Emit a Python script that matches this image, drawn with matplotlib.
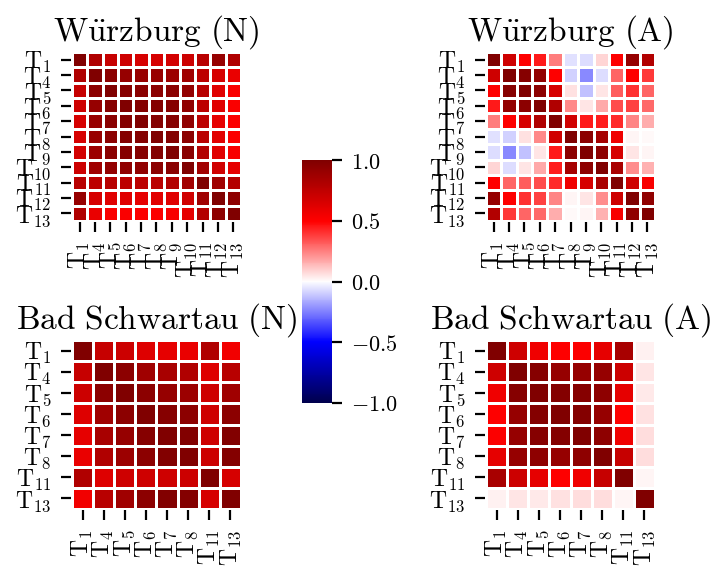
import numpy as np
import matplotlib
matplotlib.use("Agg")
import matplotlib.pyplot as plt
import seaborn as sns

sns.set_style("ticks")
plt.rcParams["mathtext.fontset"] = "cm"
plt.rcParams["font.family"] = ["DejaVu Serif"]
plt.rcParams["text.color"] = "black"
plt.rcParams["xtick.color"] = "black"
plt.rcParams["ytick.color"] = "black"

# etiquetas de los puntos
etiq_w = ["1", "4", "5", "6", "7", "8", "9", "10", "11", "12", "13"]
etiq_bs = ["1", "4", "5", "6", "7", "8", "11", "13"]

# correlaciones Würzburg (N)
wurz_n = [
    [1.00, 0.81, 0.72, 0.69, 0.66, 0.66, 0.67, 0.70, 0.78, 0.91, 0.81],
    [0.81, 1.00, 0.95, 0.91, 0.90, 0.90, 0.89, 0.87, 0.76, 0.66, 0.58],
    [0.72, 0.95, 1.00, 0.97, 0.96, 0.95, 0.96, 0.92, 0.78, 0.62, 0.52],
    [0.69, 0.91, 0.97, 1.00, 0.98, 0.98, 0.97, 0.93, 0.76, 0.62, 0.52],
    [0.66, 0.90, 0.96, 0.98, 1.00, 0.98, 0.97, 0.93, 0.76, 0.60, 0.51],
    [0.66, 0.90, 0.95, 0.98, 0.98, 1.00, 0.98, 0.95, 0.77, 0.61, 0.51],
    [0.67, 0.89, 0.96, 0.97, 0.97, 0.98, 1.00, 0.96, 0.80, 0.62, 0.53],
    [0.70, 0.87, 0.92, 0.93, 0.93, 0.95, 0.96, 1.00, 0.86, 0.68, 0.60],
    [0.78, 0.76, 0.78, 0.76, 0.76, 0.77, 0.80, 0.86, 1.00, 0.87, 0.79],
    [0.91, 0.66, 0.62, 0.62, 0.60, 0.61, 0.62, 0.68, 0.87, 1.00, 0.94],
    [0.81, 0.58, 0.52, 0.52, 0.51, 0.51, 0.53, 0.60, 0.79, 0.94, 1.00],
]

# correlaciones Würzburg (A)
wurz_a = [
    [1.00, 0.69, 0.50, 0.45, 0.25, -0.06, -0.07, 0.08, 0.50, 0.91, 0.80],
    [0.69, 1.00, 0.97, 0.92, 0.50, -0.09, -0.23, -0.07, 0.30, 0.50, 0.39],
    [0.50, 0.97, 1.00, 0.95, 0.66, 0.06, -0.12, 0.05, 0.32, 0.40, 0.30],
    [0.45, 0.92, 0.95, 1.00, 0.81, 0.23, 0.05, 0.17, 0.35, 0.37, 0.29],
    [0.25, 0.50, 0.66, 0.81, 1.00, 0.68, 0.45, 0.44, 0.42, 0.24, 0.16],
    [-0.06, -0.09, 0.06, 0.23, 0.68, 1.00, 0.95, 0.85, 0.56, 0.02, 0.01],
    [-0.07, -0.23, -0.12, 0.05, 0.45, 0.95, 1.00, 0.94, 0.66, 0.05, 0.02],
    [0.08, -0.07, 0.05, 0.17, 0.44, 0.85, 0.94, 1.00, 0.83, 0.22, 0.15],
    [0.50, 0.30, 0.32, 0.35, 0.42, 0.56, 0.66, 0.83, 1.00, 0.69, 0.53],
    [0.91, 0.50, 0.40, 0.37, 0.24, 0.02, 0.05, 0.22, 0.69, 1.00, 0.93],
    [0.80, 0.39, 0.30, 0.29, 0.16, 0.01, 0.02, 0.15, 0.53, 0.93, 1.00],
]

# correlaciones Bad Schwartau (N)
bs_n = [
    [1.00, 0.72, 0.70, 0.63, 0.60, 0.58, 0.81, 0.55],
    [0.72, 1.00, 0.95, 0.87, 0.84, 0.81, 0.63, 0.78],
    [0.70, 0.95, 1.00, 0.95, 0.91, 0.89, 0.69, 0.87],
    [0.63, 0.87, 0.95, 1.00, 0.97, 0.95, 0.69, 0.95],
    [0.60, 0.84, 0.91, 0.97, 1.00, 0.99, 0.69, 0.99],
    [0.58, 0.81, 0.89, 0.95, 0.99, 1.00, 0.70, 0.98],
    [0.81, 0.63, 0.69, 0.69, 0.69, 0.70, 1.00, 0.66],
    [0.55, 0.78, 0.87, 0.95, 0.99, 0.98, 0.66, 1.00],
]

# correlaciones Bad Schwartau (A)
bs_a = [
    [1.00, 0.69, 0.56, 0.50, 0.51, 0.60, 0.84, 0.03],
    [0.69, 1.00, 0.97, 0.91, 0.91, 0.91, 0.70, 0.05],
    [0.56, 0.97, 1.00, 0.98, 0.97, 0.94, 0.60, 0.04],
    [0.50, 0.91, 0.98, 1.00, 0.98, 0.91, 0.50, 0.06],
    [0.51, 0.91, 0.97, 0.98, 1.00, 0.94, 0.56, 0.07],
    [0.60, 0.91, 0.94, 0.91, 0.94, 1.00, 0.72, 0.07],
    [0.84, 0.70, 0.60, 0.50, 0.56, 0.72, 1.00, 0.02],
    [0.03, 0.05, 0.04, 0.06, 0.07, 0.07, 0.02, 1.00],
]

paneles = [
    (wurz_n, etiq_w, r"$\mathrm{W\ddot{u}rzburg\ (N)}$", [0.1011, 0.6095, 0.2374, 0.2986]),
    (wurz_a, etiq_w, r"$\mathrm{W\ddot{u}rzburg\ (A)}$", [0.6826, 0.6095, 0.2374, 0.2986]),
    (bs_n, etiq_bs, r"$\mathrm{Bad\ Schwartau\ (N)}$", [0.1011, 0.1007, 0.2374, 0.2986]),
    (bs_a, etiq_bs, r"$\mathrm{Bad\ Schwartau\ (A)}$", [0.6826, 0.1007, 0.2374, 0.2986]),
]

fig = plt.figure(figsize=(7.12, 5.66), dpi=100)

for datos, etiq, titulo, pos in paneles:
    ax = fig.add_axes(pos)
    nombres = [r"$\mathrm{T}_{%s}$" % e for e in etiq]
    sns.heatmap(np.array(datos), ax=ax, cmap="seismic", vmin=-1, vmax=1,
                cbar=False, linewidths=1, linecolor="white", square=False,
                xticklabels=nombres, yticklabels=nombres)
    ax.spines["left"].set_position(("outward", 1))
    ax.spines["bottom"].set_position(("outward", 1))
    ax.tick_params(axis="both", length=7, width=1.6, labelsize=17, pad=7)
    plt.setp(ax.get_xticklabels(), rotation=90)
    plt.setp(ax.get_yticklabels(), rotation=0)
    ax.set_title(titulo, fontsize=24, pad=8)

# barra de color compartida
cax = fig.add_axes([0.4242, 0.288, 0.0421, 0.4293])
sm = plt.cm.ScalarMappable(cmap="seismic", norm=plt.Normalize(-1, 1))
cb = fig.colorbar(sm, cax=cax)
cb.outline.set_visible(False)
cb.set_ticks([-1.0, -0.5, 0.0, 0.5, 1.0])
cb.set_ticklabels([r"$-1.0$", r"$-0.5$", r"$0.0$", r"$0.5$", r"$1.0$"])
cax.tick_params(length=7, width=1.6, labelsize=16, pad=7)

fig.savefig("out.png", dpi=100)
